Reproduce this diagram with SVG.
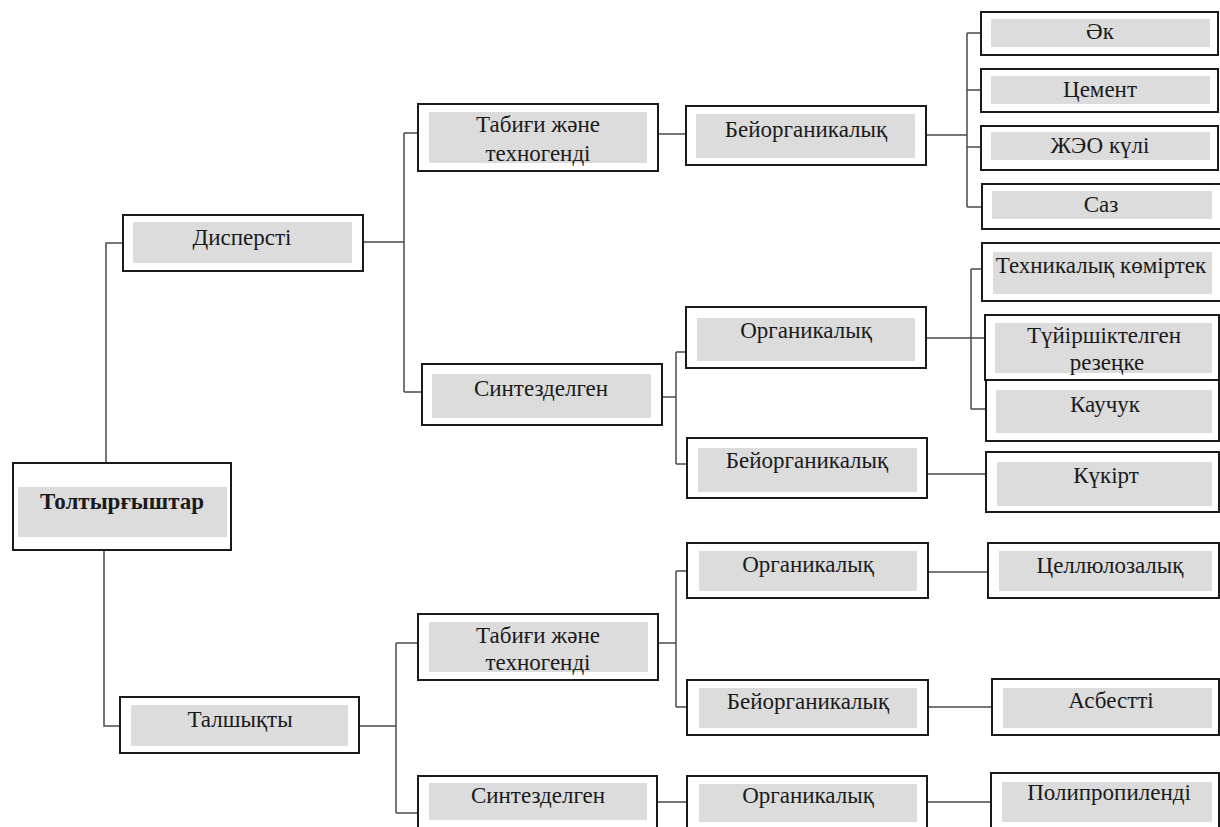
<svg xmlns="http://www.w3.org/2000/svg" width="1220" height="827" viewBox="0 0 1220 827">
<style>
.box{fill:#ffffff;stroke:#1a1a1a;stroke-width:2}
.fill{fill:#dcdcdc;stroke:none}
.t{font-family:"Liberation Serif","Times New Roman",serif;font-size:23px;fill:#1a1a1a;text-anchor:middle}
.b{font-weight:bold}
.c{fill:none;stroke:#4a4a4a;stroke-width:1.5}
</style>
<rect width="1220" height="827" fill="#ffffff"/>
<g id="connectors">
<path class="c" d="M106,463 V243 H123"/>
<path class="c" d="M104,550 V726 H120"/>
<path class="c" d="M363,242 H404 M404,133 V392 M404,133 H418 M404,392 H422"/>
<path class="c" d="M658,134 H686"/>
<path class="c" d="M926,135 H967 M967,33 V207 M967,33 H981 M967,90 H981 M967,147 H981 M967,207 H982"/>
<path class="c" d="M662,397 H676 M676,352 V464 M676,352 H686 M676,464 H687"/>
<path class="c" d="M926,338 H985 M971,269 V409 M971,269 H982 M971,409 H986"/>
<path class="c" d="M927,474 H986"/>
<path class="c" d="M359,726 H396 M396,643 V813 M396,643 H418 M396,813 H418"/>
<path class="c" d="M658,643 H676 M676,571 V707 M676,571 H687 M676,707 H687"/>
<path class="c" d="M928,572 H988"/>
<path class="c" d="M928,707 H992"/>
<path class="c" d="M657,802 H687"/>
<path class="c" d="M927,802 H991"/>
</g>
<g id="n-toltyrgyshtar"><rect class="box" x="13" y="463" width="218" height="87"/><rect class="fill" x="18" y="487" width="209" height="50"/><text class="t b" x="122" y="509">Толтырғыштар</text></g>
<g id="n-dispersti"><rect class="box" x="123" y="215" width="240" height="56"/><rect class="fill" x="133" y="222" width="219" height="41"/><text class="t" x="242" y="245">Дисперсті</text></g>
<g id="n-talshyqty"><rect class="box" x="120" y="697" width="239" height="56"/><rect class="fill" x="131" y="705" width="217" height="41"/><text class="t" x="240" y="727">Талшықты</text></g>
<g id="n-tabigi1"><rect class="box" x="418" y="104" width="240" height="67"/><rect class="fill" x="429" y="112" width="218" height="51"/><text class="t" x="538" y="132">Табиғи және</text><text class="t" x="538" y="161">техногенді</text></g>
<g id="n-sintez1"><rect class="box" x="422" y="364" width="240" height="61"/><rect class="fill" x="432" y="374" width="219" height="44"/><text class="t" x="541" y="396">Синтезделген</text></g>
<g id="n-beiorg1"><rect class="box" x="686" y="106" width="240" height="59"/><rect class="fill" x="696" y="114" width="219" height="44"/><text class="t" x="806" y="137">Бейорганикалық</text></g>
<g id="n-org1"><rect class="box" x="686" y="307" width="240" height="61"/><rect class="fill" x="697" y="318" width="218" height="43"/><text class="t" x="806" y="338">Органикалық</text></g>
<g id="n-beiorg2"><rect class="box" x="687" y="438" width="240" height="60"/><rect class="fill" x="698" y="448" width="219" height="44"/><text class="t" x="807" y="468">Бейорганикалық</text></g>
<g id="n-ak"><rect class="box" x="981" y="12" width="237" height="43"/><rect class="fill" x="991" y="19" width="219" height="28"/><text class="t" x="1100" y="39">Әк</text></g>
<g id="n-cement"><rect class="box" x="981" y="69" width="237" height="43"/><rect class="fill" x="991" y="76" width="219" height="28"/><text class="t" x="1100" y="97">Цемент</text></g>
<g id="n-zheo"><rect class="box" x="981" y="126" width="237" height="44"/><rect class="fill" x="991" y="132" width="219" height="28"/><text class="t" x="1100" y="153">ЖЭО күлі</text></g>
<g id="n-saz"><rect class="box" x="982" y="184" width="240" height="45"/><rect class="fill" x="992" y="191" width="220" height="28"/><text class="t" x="1101" y="212">Саз</text></g>
<g id="n-tekhn"><rect class="box" x="982" y="243" width="240" height="58"/><rect class="fill" x="993" y="252" width="219" height="42"/><text class="t" x="1101" y="273">Техникалық көміртек</text></g>
<g id="n-tuiir"><rect class="box" x="985" y="315" width="234" height="65"/><rect class="fill" x="995" y="323" width="217" height="50"/><text class="t" x="1104" y="343">Түйіршіктелген</text><text class="t" x="1107" y="370">резеңке</text></g>
<g id="n-kauchuk"><rect class="box" x="986" y="380" width="233" height="61"/><rect class="fill" x="996" y="390" width="216" height="43"/><text class="t" x="1105" y="412">Каучук</text></g>
<g id="n-kukirt"><rect class="box" x="986" y="452" width="233" height="60"/><rect class="fill" x="997" y="462" width="215" height="44"/><text class="t" x="1106" y="483">Күкірт</text></g>
<g id="n-tabigi2"><rect class="box" x="418" y="614" width="240" height="66"/><rect class="fill" x="429" y="622" width="219" height="50"/><text class="t" x="538" y="643">Табиғи және</text><text class="t" x="538" y="670">техногенді</text></g>
<g id="n-sintez2"><rect class="box" x="418" y="776" width="239" height="60"/><rect class="fill" x="429" y="783" width="218" height="37"/><text class="t" x="538" y="803">Синтезделген</text></g>
<g id="n-org2"><rect class="box" x="687" y="543" width="241" height="55"/><rect class="fill" x="699" y="551" width="218" height="40"/><text class="t" x="808" y="572">Органикалық</text></g>
<g id="n-beiorg3"><rect class="box" x="687" y="680" width="241" height="55"/><rect class="fill" x="699" y="688" width="218" height="40"/><text class="t" x="808" y="709">Бейорганикалық</text></g>
<g id="n-org3"><rect class="box" x="687" y="776" width="240" height="60"/><rect class="fill" x="699" y="784" width="218" height="38"/><text class="t" x="808" y="803">Органикалық</text></g>
<g id="n-cellul"><rect class="box" x="988" y="543" width="231" height="55"/><rect class="fill" x="999" y="551" width="213" height="40"/><text class="t" x="1110" y="573">Целлюлозалық</text></g>
<g id="n-asbest"><rect class="box" x="992" y="679" width="227" height="56"/><rect class="fill" x="1003" y="688" width="209" height="40"/><text class="t" x="1111" y="708">Асбестті</text></g>
<g id="n-polip"><rect class="box" x="991" y="773" width="228" height="60"/><rect class="fill" x="1002" y="782" width="210" height="40"/><text class="t" x="1109" y="800">Полипропиленді</text></g>
</svg>
